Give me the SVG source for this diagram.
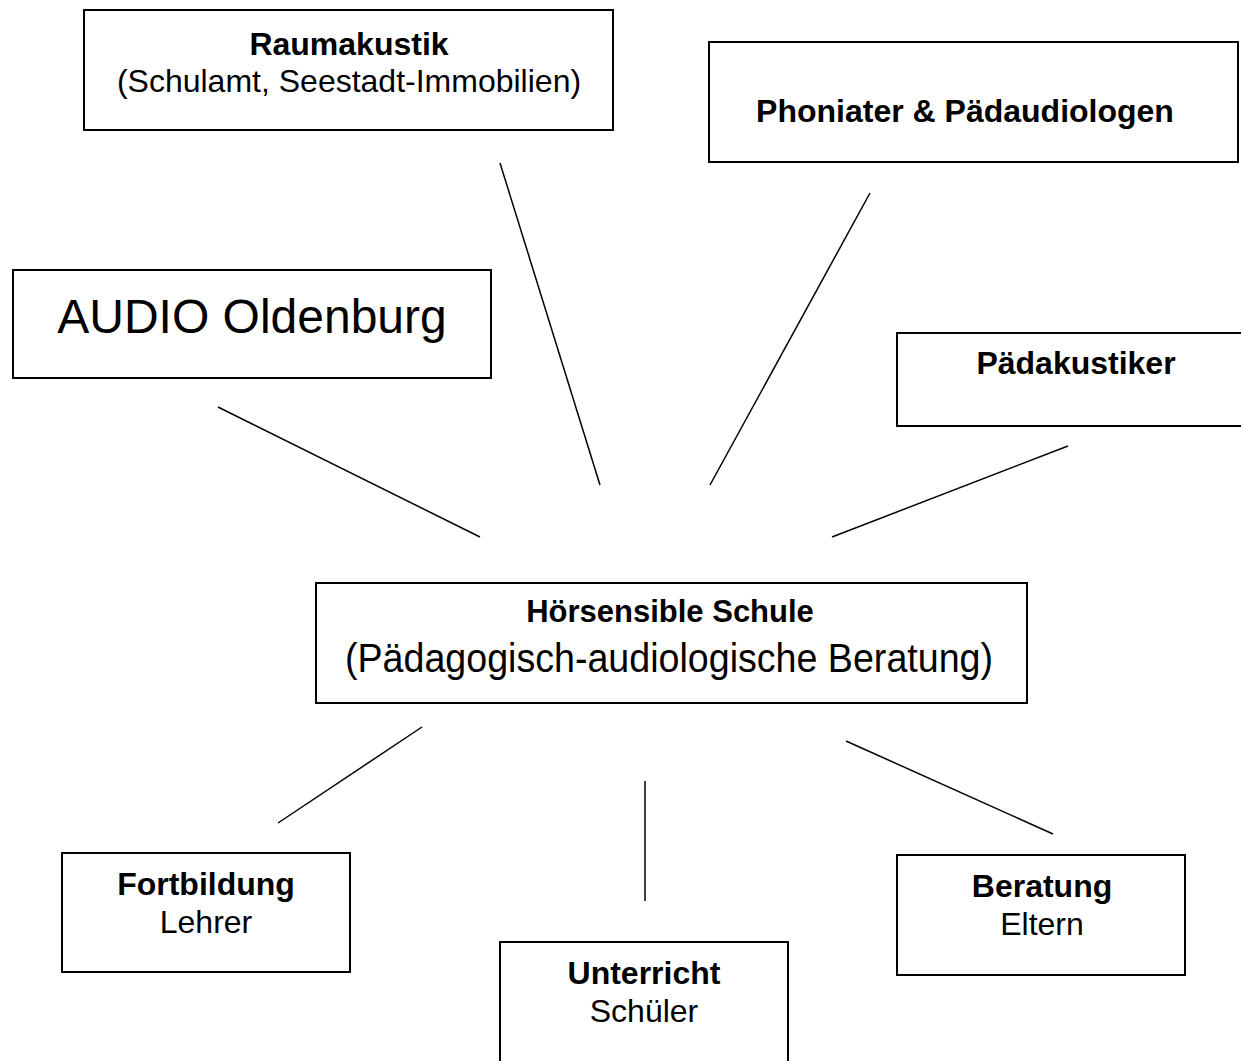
<svg xmlns="http://www.w3.org/2000/svg" width="1241" height="1061" viewBox="0 0 1241 1061">
<style>
.box{fill:#fff;stroke:#000;stroke-width:2}
.t{font-family:"Liberation Sans",Arial,sans-serif;font-size:32px;fill:#000;text-anchor:middle}
.b{font-weight:bold}
.c line{stroke:#000;stroke-width:1.5}
</style>
<rect width="1241" height="1061" fill="#fff"/>
<g class="c" id="connectors">
<line x1="500" y1="163" x2="600" y2="485"/>
<line x1="870" y1="193" x2="710" y2="485"/>
<line x1="218" y1="407" x2="480" y2="537"/>
<line x1="1068" y1="446" x2="832" y2="537"/>
<line x1="422" y1="727" x2="278" y2="823"/>
<line x1="645" y1="781" x2="645" y2="901"/>
<line x1="846" y1="741" x2="1053" y2="834"/>
</g>
<g id="raumakustik">
<rect class="box" x="84" y="10" width="529" height="120"/>
<text class="t b" x="349" y="55">Raumakustik</text>
<text class="t" x="349" y="92">(Schulamt, Seestadt-Immobilien)</text>
</g>
<g id="phoniater">
<rect class="box" x="709" y="42" width="529" height="120"/>
<text class="t b" x="965" y="122">Phoniater &amp; Pädaudiologen</text>
</g>
<g id="audio">
<rect class="box" x="13" y="270" width="478" height="108"/>
<text class="t" x="252" y="333" style="font-size:48px">AUDIO Oldenburg</text>
</g>
<g id="paedakustiker">
<rect class="box" x="897" y="333" width="360" height="93"/>
<text class="t b" x="1076" y="374">Pädakustiker</text>
</g>
<g id="schule">
<rect class="box" x="316" y="583" width="711" height="120"/>
<text class="t b" x="670" y="622" style="font-size:31px">Hörsensible Schule</text>
<text class="t" x="669" y="672" style="font-size:40px" textLength="648" lengthAdjust="spacingAndGlyphs">(Pädagogisch-audiologische Beratung)</text>
</g>
<g id="fortbildung">
<rect class="box" x="62" y="853" width="288" height="119"/>
<text class="t b" x="206" y="895">Fortbildung</text>
<text class="t" x="206" y="933">Lehrer</text>
</g>
<g id="unterricht">
<rect class="box" x="500" y="942" width="288" height="130"/>
<text class="t b" x="644" y="984">Unterricht</text>
<text class="t" x="644" y="1022">Schüler</text>
</g>
<g id="beratung">
<rect class="box" x="897" y="855" width="288" height="120"/>
<text class="t b" x="1042" y="897">Beratung</text>
<text class="t" x="1042" y="935">Eltern</text>
</g>
</svg>
